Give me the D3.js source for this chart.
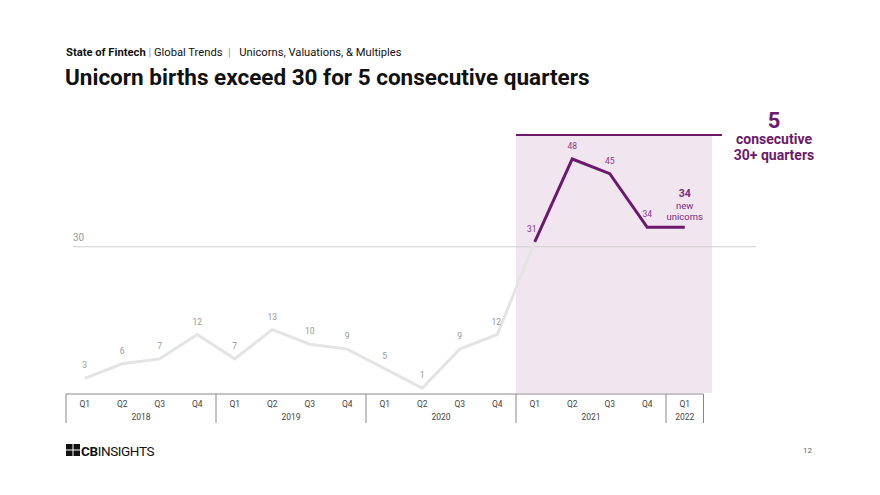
<!DOCTYPE html>
<html><head><meta charset="utf-8">
<script src="https://cdn.jsdelivr.net/npm/d3@7"></script>
<style>
html,body{margin:0;padding:0;background:#fff;}
svg{display:block;font-family:Roboto,"Noto Sans",sans-serif;}
</style></head>
<body>
<svg id="c" width="880" height="495"></svg>
<script>
const quarters = ["Q1","Q2","Q3","Q4","Q1","Q2","Q3","Q4","Q1","Q2","Q3","Q4","Q1","Q2","Q3","Q4","Q1"];
const years = ["2018","2018","2018","2018","2019","2019","2019","2019","2020","2020","2020","2020","2021","2021","2021","2021","2022"];
const births = [3,6,7,12,7,13,10,9,5,1,9,12,31,48,45,34,34];
const threshold = 30;
const highlightStart = 12; // index of Q1 2021

const purple = "#6b1a6b";
const svg = d3.select("#c");
const keys = births.map((d,i)=>i);

const x = d3.scaleBand().domain(keys).range([66,703.5]).padding(0);
const y = d3.scaleLinear().domain([0,48]).range([393,159]);
const cx = i => x(i) + x.bandwidth()/2;

// header
const hdr = svg.append("text").attr("x",66).attr("y",56).attr("font-size",11.2).attr("fill","#111");
hdr.append("tspan").attr("font-weight","bold").text("State of Fintech");
hdr.append("tspan").attr("fill","#999").text(" | ");
hdr.append("tspan").text("Global Trends");
hdr.append("tspan").attr("fill","#999").attr("xml:space","preserve").text("  |  ");
hdr.append("tspan").attr("dx",3).text("Unicorns, Valuations, & Multiples");
svg.append("text").attr("x",65).attr("y",85).attr("font-size",22.5).attr("font-weight","bold").attr("fill","#111")
  .text("Unicorn births exceed 30 for 5 consecutive quarters");

// highlight region
const hx0 = x(highlightStart), hx1 = x(births.length-1)+x.bandwidth()+8.5;
svg.append("rect").attr("x",hx0).attr("y",135).attr("width",hx1-hx0).attr("height",393-135).attr("fill","#f1e5f0");
svg.append("line").attr("x1",hx0).attr("x2",722).attr("y1",135).attr("y2",135).attr("stroke",purple).attr("stroke-width",2);

// threshold
svg.append("line").attr("x1",73).attr("x2",756).attr("y1",y(threshold)).attr("y2",y(threshold)).attr("stroke","#cfcfcf").attr("stroke-width",1.2);
svg.append("text").attr("x",73).attr("y",y(threshold)-6).attr("font-size",10).attr("fill","#999").text(threshold);

// lines
const line = d3.line().x(d=>cx(d)).y(d=>y(births[d]));
svg.append("path").datum(keys.slice(0,highlightStart+1)).attr("d",line).attr("fill","none")
  .attr("stroke","#e4e4e4").attr("stroke-width",3).attr("stroke-linejoin","miter");
svg.append("path").datum(keys.slice(highlightStart)).attr("d",line).attr("fill","none")
  .attr("stroke",purple).attr("stroke-width",3).attr("stroke-linejoin","miter");

// data labels
svg.selectAll("text.dl").data(keys.slice(0,births.length-1)).join("text").attr("class","dl")
  .attr("x",d=>cx(d)-(d===highlightStart?3:(d===11?1:0))).attr("y",d=>y(births[d])-10)
  .attr("text-anchor","middle").attr("font-size",8.5)
  .attr("fill",d=>d>=highlightStart?"#8a3a88":"#999").text(d=>births[d]);

// last point annotation
const li = births.length-1;
const ann = svg.append("text").attr("text-anchor","middle").attr("fill","#7a2a78").attr("font-size",9.5);
ann.append("tspan").attr("x",cx(li)).attr("y",y(births[li])-30).attr("font-weight","bold").attr("font-size",10.5).text(births[li]);
ann.append("tspan").attr("x",cx(li)).attr("y",y(births[li])-18.5).text("new");
ann.append("tspan").attr("x",cx(li)).attr("y",y(births[li])-7.5).text("unicorns");

// big annotation
const ba = svg.append("text").attr("text-anchor","middle").attr("fill",purple).attr("font-weight","bold");
ba.append("tspan").attr("x",774).attr("y",128).attr("font-size",22).text("5");
ba.append("tspan").attr("x",774).attr("y",144).attr("font-size",14).text("consecutive");
ba.append("tspan").attr("x",774).attr("y",160).attr("font-size",14).text("30+ quarters");

// x axis table
svg.append("line").attr("x1",66).attr("x2",703.5).attr("y1",394).attr("y2",394).attr("stroke","#888").attr("stroke-width",1);
svg.selectAll("text.q").data(keys).join("text").attr("class","q")
  .attr("x",d=>cx(d)).attr("y",406.5).attr("text-anchor","middle").attr("font-size",8.5).attr("fill","#444").text(d=>quarters[d]);
const yearGroups = d3.groups(keys, d=>years[d]);
yearGroups.forEach(([yr, idx])=>{
  const a = x(idx[0]), b = x(idx[idx.length-1])+x.bandwidth();
  svg.append("text").attr("x",(a+b)/2).attr("y",420).attr("text-anchor","middle").attr("font-size",8.5).attr("fill","#444").text(yr);
});
const seps = [x(0)].concat(yearGroups.map(([yr,idx])=>x(idx[idx.length-1])+x.bandwidth()));
svg.selectAll("line.sep").data(seps).join("line").attr("class","sep")
  .attr("x1",d=>d).attr("x2",d=>d).attr("y1",394).attr("y2",423).attr("stroke","#888").attr("stroke-width",1);

// logo
const lg = svg.append("g").attr("transform","translate(66,444)");
lg.append("rect").attr("x",0).attr("y",0).attr("width",6.5).attr("height",5.5).attr("fill","#111");
lg.append("rect").attr("x",7.5).attr("y",0).attr("width",6.5).attr("height",5.5).attr("fill","#111");
lg.append("rect").attr("x",0).attr("y",6.5).attr("width",6.5).attr("height",5.5).attr("fill","#111");
lg.append("rect").attr("x",7.5).attr("y",6.5).attr("width",6.5).attr("height",5.5).attr("fill","#111");
lg.append("text").attr("x",15).attr("y",12).attr("font-size",13.5).attr("fill","#111").attr("letter-spacing","-0.4")
  .html('<tspan font-weight="bold">CB</tspan>INSIGHTS');

svg.append("text").attr("x",812).attr("y",453).attr("text-anchor","end").attr("font-size",8).attr("fill","#666").text("12");
</script>
</body></html>
